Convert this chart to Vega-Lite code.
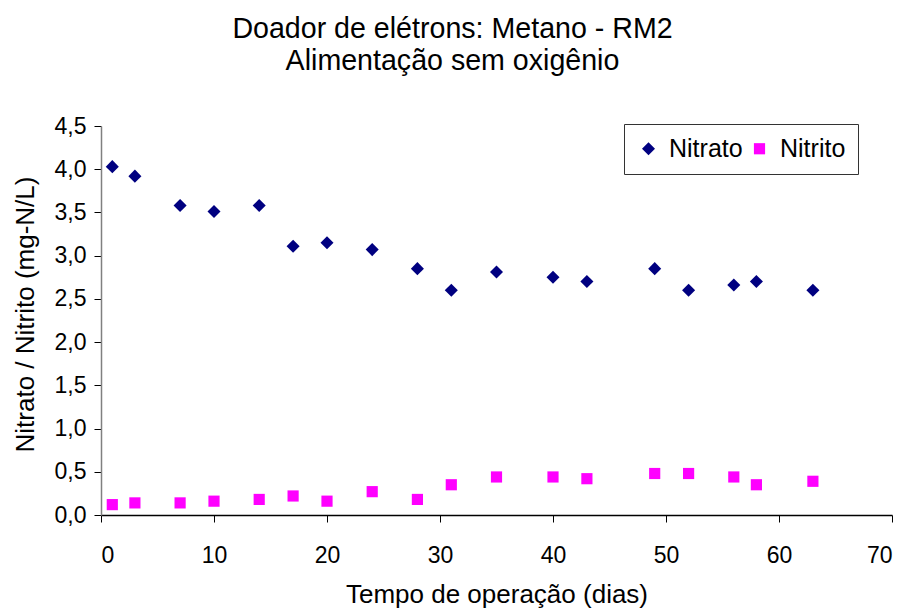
{
  "$schema": "https://vega.github.io/schema/vega-lite/v6.json",
  "width": 791,
  "height": 389,
  "autosize": {"type": "none"},
  "padding": {"left": 101, "top": 126, "right": 17, "bottom": 95},
  "background": "white",
  "title": {
    "text": ["Doador de elétrons: Metano - RM2", "Alimentação sem oxigênio"],
    "font": "Liberation Sans",
    "fontSize": 28.6,
    "fontWeight": "normal",
    "color": "black",
    "anchor": "middle",
    "dx": -44,
    "dy": 40,
    "lineHeight": 32,
    "baseline": "alphabetic",
    "offset": 56
  },
  "data": {
    "values": [
      {"dia": 1, "serie": "Nitrato", "valor": 4.03},
      {"dia": 3, "serie": "Nitrato", "valor": 3.92},
      {"dia": 7, "serie": "Nitrato", "valor": 3.58},
      {"dia": 10, "serie": "Nitrato", "valor": 3.51},
      {"dia": 14, "serie": "Nitrato", "valor": 3.58},
      {"dia": 17, "serie": "Nitrato", "valor": 3.11},
      {"dia": 20, "serie": "Nitrato", "valor": 3.15},
      {"dia": 24, "serie": "Nitrato", "valor": 3.07},
      {"dia": 28, "serie": "Nitrato", "valor": 2.85},
      {"dia": 31, "serie": "Nitrato", "valor": 2.6},
      {"dia": 35, "serie": "Nitrato", "valor": 2.81},
      {"dia": 40, "serie": "Nitrato", "valor": 2.75},
      {"dia": 43, "serie": "Nitrato", "valor": 2.7},
      {"dia": 49, "serie": "Nitrato", "valor": 2.85},
      {"dia": 52, "serie": "Nitrato", "valor": 2.6},
      {"dia": 56, "serie": "Nitrato", "valor": 2.66},
      {"dia": 58, "serie": "Nitrato", "valor": 2.7},
      {"dia": 63, "serie": "Nitrato", "valor": 2.6},
      {"dia": 1, "serie": "Nitrito", "valor": 0.12},
      {"dia": 3, "serie": "Nitrito", "valor": 0.14},
      {"dia": 7, "serie": "Nitrito", "valor": 0.14},
      {"dia": 10, "serie": "Nitrito", "valor": 0.16},
      {"dia": 14, "serie": "Nitrito", "valor": 0.18},
      {"dia": 17, "serie": "Nitrito", "valor": 0.22},
      {"dia": 20, "serie": "Nitrito", "valor": 0.16},
      {"dia": 24, "serie": "Nitrito", "valor": 0.27},
      {"dia": 28, "serie": "Nitrito", "valor": 0.18},
      {"dia": 31, "serie": "Nitrito", "valor": 0.35},
      {"dia": 35, "serie": "Nitrito", "valor": 0.44},
      {"dia": 40, "serie": "Nitrito", "valor": 0.44},
      {"dia": 43, "serie": "Nitrito", "valor": 0.42},
      {"dia": 49, "serie": "Nitrito", "valor": 0.48},
      {"dia": 52, "serie": "Nitrito", "valor": 0.48},
      {"dia": 56, "serie": "Nitrito", "valor": 0.44},
      {"dia": 58, "serie": "Nitrito", "valor": 0.35},
      {"dia": 63, "serie": "Nitrito", "valor": 0.39}
    ]
  },
  "mark": {"type": "point", "filled": true, "opacity": 1, "strokeWidth": 0},
  "encoding": {
    "x": {
      "field": "dia",
      "type": "quantitative",
      "scale": {"domain": [0, 70], "nice": false, "zero": false},
      "axis": {
        "title": "Tempo de operação (dias)",
        "values": [0, 10, 20, 30, 40, 50, 60, 70],
        "grid": false,
        "domainColor": "black",
        "tickColor": "black",
        "tickSize": 7,
        "labelPadding": 22,
        "labelFontSize": 23,
        "labelFont": "Liberation Sans",
        "labelColor": "black",
        "titleFont": "Liberation Sans",
        "titleFontSize": 26,
        "titleFontWeight": "normal",
        "titleColor": "black",
        "titleBaseline": "alphabetic",
        "titleY": 87
      }
    },
    "y": {
      "field": "valor",
      "type": "quantitative",
      "scale": {"domain": [0, 4.5], "nice": false},
      "axis": {
        "title": "Nitrato / Nitrito (mg-N/L)",
        "values": [0, 0.5, 1, 1.5, 2, 2.5, 3, 3.5, 4, 4.5],
        "labelExpr": "replace(format(datum.value, '.1f'), '.', ',')",
        "grid": false,
        "domainColor": "#808080",
        "tickColor": "black",
        "tickSize": 7,
        "labelPadding": 8,
        "labelFontSize": 23,
        "labelFont": "Liberation Sans",
        "labelColor": "black",
        "titleFont": "Liberation Sans",
        "titleFontSize": 26,
        "titleFontWeight": "normal",
        "titleColor": "black",
        "titleBaseline": "alphabetic",
        "titleX": -68,
        "titleY": 188
      }
    },
    "color": {
      "field": "serie",
      "type": "nominal",
      "scale": {"domain": ["Nitrato", "Nitrito"], "range": ["#000080", "#ff00ff"]},
      "legend": {
        "title": null,
        "orient": "none",
        "direction": "horizontal",
        "legendX": 523,
        "legendY": -2,
        "strokeColor": "#333333",
        "fillColor": "white",
        "padding": 12,
        "labelFont": "Liberation Sans",
        "labelFontSize": 25,
        "labelColor": "black",
        "labelOffset": 8,
        "columnPadding": 4,
        "symbolSize": 130,
        "symbolStrokeWidth": 0
      }
    },
    "shape": {
      "field": "serie",
      "type": "nominal",
      "scale": {"domain": ["Nitrato", "Nitrito"], "range": ["diamond", "square"]}
    },
    "size": {
      "field": "serie",
      "type": "nominal",
      "scale": {"domain": ["Nitrato", "Nitrito"], "range": [170, 125]},
      "legend": null
    }
  },
  "config": {
    "view": {"stroke": null},
    "axis": {"domainWidth": 1.5, "tickWidth": 1}
  }
}
